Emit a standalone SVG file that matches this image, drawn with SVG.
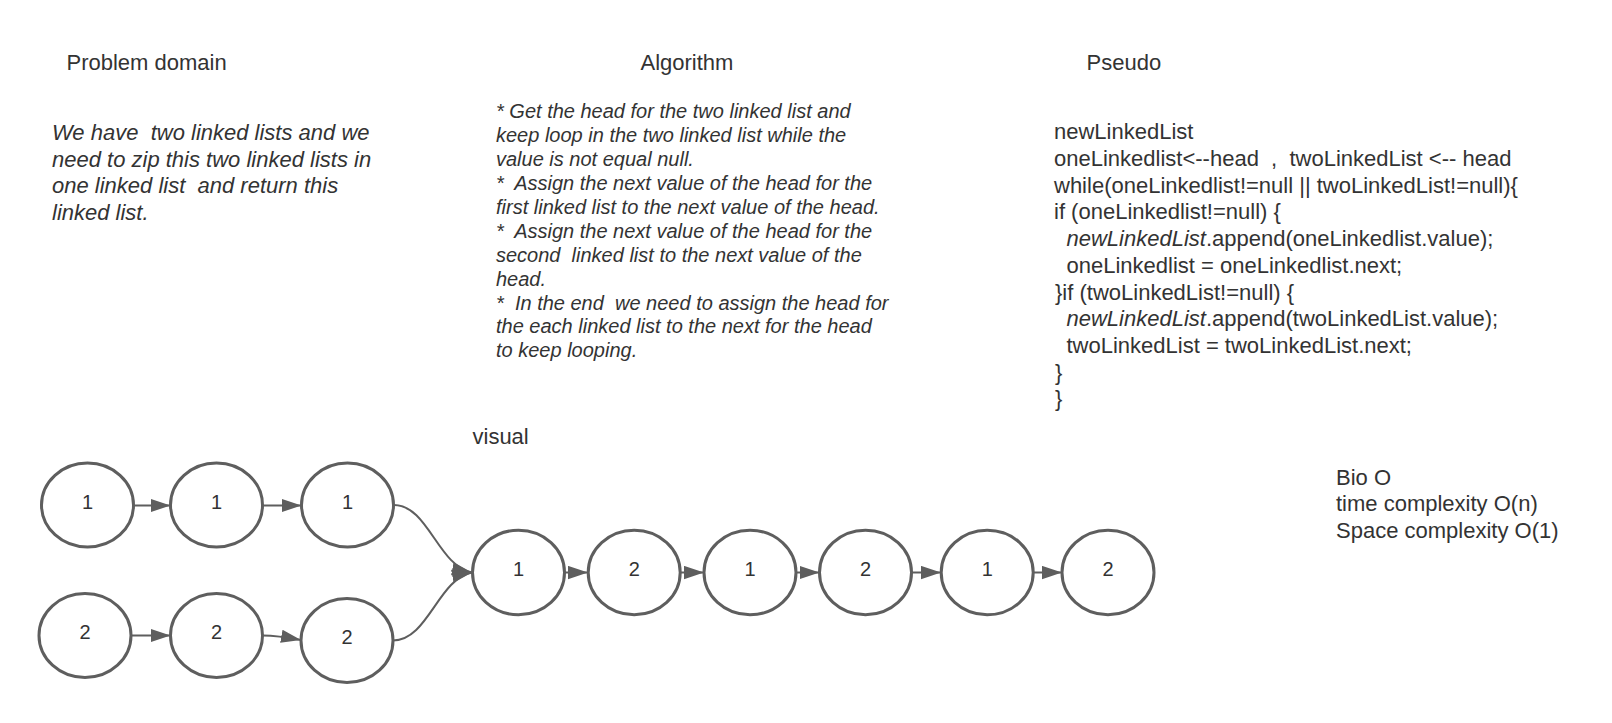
<svg xmlns="http://www.w3.org/2000/svg" width="1612" height="723" viewBox="0 0 1612 723">
<defs>
<style>
text{font-family:"Liberation Sans",Arial,sans-serif;fill:#333333;white-space:pre}
.h{font-size:22px}
.pd{font-size:22px;font-style:italic}
.al{font-size:20px;font-style:italic}
.ps{font-size:22px}
.it{font-style:italic}
.n{font-size:20px;text-anchor:middle}
.node ellipse{fill:#ffffff;stroke:#5e5e5e;stroke-width:3}
.conn path{fill:none;stroke:#5e5e5e;stroke-width:2;marker-end:url(#ah)}
</style>
<marker id="ah" markerUnits="userSpaceOnUse" markerWidth="20" markerHeight="14" refX="18" refY="6" orient="auto" viewBox="0 0 18 12">
<path d="M0,0 L18,6 L0,12 Z" fill="#5e5e5e"/>
</marker>
</defs>
<rect width="1612" height="723" fill="#ffffff"/>

<g id="headers">
<text class="h" x="66.5" y="70">Problem domain</text>
<text class="h" x="640.5" y="69.5">Algorithm</text>
<text class="h" x="1086.5" y="69.5">Pseudo</text>
<text class="h" x="472.5" y="443.5">visual</text>
</g>

<g id="problem-domain">
<text class="pd" x="52" y="140">We have  two linked lists and we</text>
<text class="pd" x="52" y="166.7">need to zip this two linked lists in</text>
<text class="pd" x="52" y="193.4">one linked list  and return this</text>
<text class="pd" x="52" y="220.1">linked list.</text>
</g>

<g id="algorithm">
<text class="al" x="496" y="118.3">* Get the head for the two linked list and</text>
<text class="al" x="496" y="142.2">keep loop in the two linked list while the</text>
<text class="al" x="496" y="166.1">value is not equal null.</text>
<text class="al" x="496" y="190">*  Assign the next value of the head for the</text>
<text class="al" x="496" y="213.9">first linked list to the next value of the head.</text>
<text class="al" x="496" y="237.8">*  Assign the next value of the head for the</text>
<text class="al" x="496" y="261.7">second  linked list to the next value of the</text>
<text class="al" x="496" y="285.6">head.</text>
<text class="al" x="496" y="309.5">*  In the end  we need to assign the head for</text>
<text class="al" x="496" y="333.4">the each linked list to the next for the head</text>
<text class="al" x="496" y="357.3">to keep looping.</text>
</g>

<g id="pseudo">
<text class="ps" x="1054" y="139.3">newLinkedList</text>
<text class="ps" x="1054" y="166">oneLinkedlist&lt;--head  ,  twoLinkedList &lt;-- head</text>
<text class="ps" x="1054" y="192.7">while(oneLinkedlist!=null || twoLinkedList!=null){</text>
<text class="ps" x="1054" y="219.4">if (oneLinkedlist!=null) {</text>
<text class="ps" x="1066.5" y="246.1"><tspan class="it">newLinkedList</tspan>.append(oneLinkedlist.value);</text>
<text class="ps" x="1066.5" y="272.8">oneLinkedlist = oneLinkedlist.next;</text>
<text class="ps" x="1055" y="299.5">}if (twoLinkedList!=null) {</text>
<text class="ps" x="1066.5" y="326.2"><tspan class="it">newLinkedList</tspan>.append(twoLinkedList.value);</text>
<text class="ps" x="1066.5" y="352.9">twoLinkedList = twoLinkedList.next;</text>
<text class="ps" x="1055" y="379.6">}</text>
<text class="ps" x="1055" y="406.3">}</text>
</g>

<g id="bigo">
<text class="ps" x="1336" y="484.5">Bio O</text>
<text class="ps" x="1336" y="511.3">time complexity O(n)</text>
<text class="ps" x="1336" y="538.1">Space complexity O(1)</text>
</g>

<g id="connectors" class="conn">
<path d="M134,505.5 L170.5,505.5"/>
<path d="M263,505.5 L301.5,505.5"/>
<path d="M132,635.5 L170.5,635.5"/>
<path d="M263,635.5 C275,635.5 285,637 301,640"/>
<path d="M394,505 C428,505 438,566 472,572.5"/>
<path d="M393,640.5 C428,640.5 438,579 472,572.5"/>
<path d="M565,572.5 L588,572.5"/>
<path d="M680.5,572.5 L704,572.5"/>
<path d="M796,572.5 L819.5,572.5"/>
<path d="M912,572.5 L941,572.5"/>
<path d="M1033.5,572.5 L1062,572.5"/>
</g>

<g id="a1" class="node"><ellipse cx="87.5" cy="505" rx="46" ry="42"/><text class="n" x="87.5" y="508.5">1</text></g>
<g id="a2" class="node"><ellipse cx="216.5" cy="505" rx="46" ry="42"/><text class="n" x="216.5" y="508.5">1</text></g>
<g id="a3" class="node"><ellipse cx="347.5" cy="505" rx="46" ry="42"/><text class="n" x="347.5" y="508.5">1</text></g>

<g id="b1" class="node"><ellipse cx="85" cy="635.5" rx="46" ry="42"/><text class="n" x="85" y="639">2</text></g>
<g id="b2" class="node"><ellipse cx="216.5" cy="635.5" rx="46" ry="42"/><text class="n" x="216.5" y="639">2</text></g>
<g id="b3" class="node"><ellipse cx="347" cy="640.5" rx="46" ry="42"/><text class="n" x="347" y="644">2</text></g>

<g id="m1" class="node"><ellipse cx="518.5" cy="572.5" rx="46" ry="42.3"/><text class="n" x="518.5" y="576">1</text></g>
<g id="m2" class="node"><ellipse cx="634.2" cy="572.5" rx="46" ry="42.3"/><text class="n" x="634.2" y="576">2</text></g>
<g id="m3" class="node"><ellipse cx="750" cy="572.5" rx="46" ry="42.3"/><text class="n" x="750" y="576">1</text></g>
<g id="m4" class="node"><ellipse cx="865.5" cy="572.5" rx="46" ry="42.3"/><text class="n" x="865.5" y="576">2</text></g>
<g id="m5" class="node"><ellipse cx="987.2" cy="572.5" rx="46" ry="42.3"/><text class="n" x="987.2" y="576">1</text></g>
<g id="m6" class="node"><ellipse cx="1108" cy="572.5" rx="46" ry="42.3"/><text class="n" x="1108" y="576">2</text></g>
</svg>
